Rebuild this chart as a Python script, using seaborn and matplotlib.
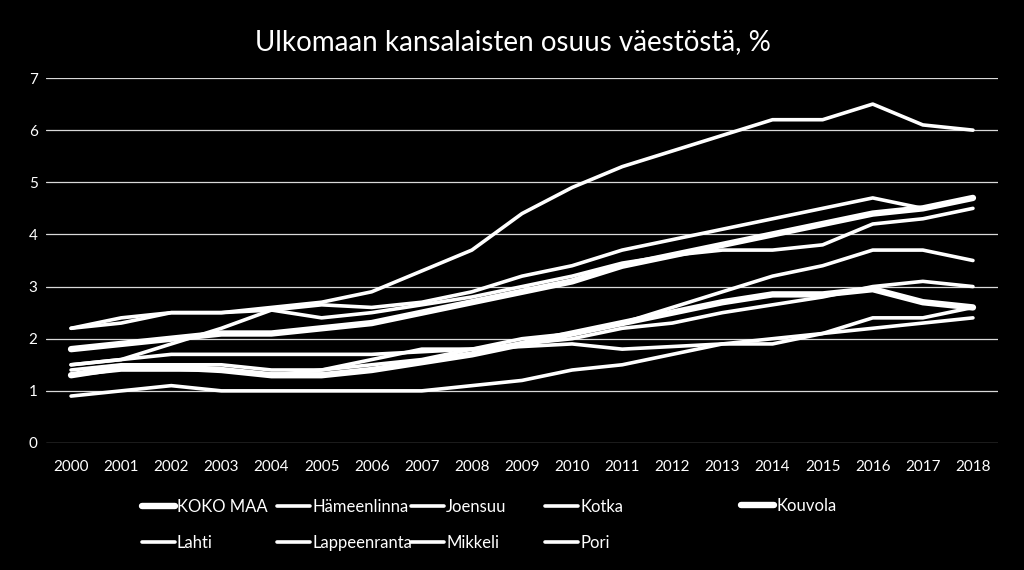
import matplotlib
matplotlib.use("Agg")
import matplotlib.pyplot as plt
import seaborn as sns
import pandas as pd
from matplotlib.lines import Line2D

years = list(range(2000, 2019))
koko_maa     = [1.8, 1.9, 2.0, 2.1, 2.1, 2.2, 2.3, 2.5, 2.7, 2.9, 3.1, 3.4, 3.6, 3.8, 4.0, 4.2, 4.4, 4.5, 4.7]
hameenlinna  = [1.5, 1.6, 1.7, 1.7, 1.7, 1.7, 1.7, 1.75, 1.8, 1.85, 1.9, 1.8, 1.85, 1.9, 1.9, 2.1, 2.4, 2.4, 2.6]
joensuu      = [1.4, 1.5, 1.5, 1.5, 1.4, 1.4, 1.5, 1.6, 1.8, 2.0, 2.1, 2.3, 2.6, 2.9, 3.2, 3.4, 3.7, 3.7, 3.5]
kotka        = [2.2, 2.4, 2.5, 2.5, 2.6, 2.7, 2.9, 3.3, 3.7, 4.4, 4.9, 5.3, 5.6, 5.9, 6.2, 6.2, 6.5, 6.1, 6.0]
kouvola      = [1.3, 1.45, 1.45, 1.4, 1.3, 1.3, 1.4, 1.55, 1.7, 1.9, 2.1, 2.3, 2.5, 2.7, 2.85, 2.85, 2.95, 2.7, 2.6]
lahti        = [2.2, 2.3, 2.5, 2.5, 2.55, 2.65, 2.6, 2.7, 2.9, 3.2, 3.4, 3.7, 3.9, 4.1, 4.3, 4.5, 4.7, 4.5, 4.7]
lappeenranta = [1.5, 1.6, 1.9, 2.2, 2.55, 2.4, 2.5, 2.65, 2.8, 3.0, 3.2, 3.45, 3.6, 3.7, 3.7, 3.8, 4.2, 4.3, 4.5]
mikkeli      = [0.9, 1.0, 1.1, 1.0, 1.0, 1.0, 1.0, 1.0, 1.1, 1.2, 1.4, 1.5, 1.7, 1.9, 2.0, 2.1, 2.2, 2.3, 2.4]
pori         = [1.3, 1.4, 1.4, 1.4, 1.3, 1.4, 1.6, 1.8, 1.8, 1.9, 2.0, 2.2, 2.3, 2.5, 2.65, 2.8, 3.0, 3.1, 3.0]

series_names = ["KOKO MAA", "Hämeenlinna", "Joensuu", "Kotka", "Kouvola",
                "Lahti", "Lappeenranta", "Mikkeli", "Pori"]
series_vals = [koko_maa, hameenlinna, joensuu, kotka, kouvola,
               lahti, lappeenranta, mikkeli, pori]
thick = {"KOKO MAA", "Kouvola"}

title = "Ulkomaan kansalaisten osuus väestöstä, %"

sns.set_theme(style="dark")
plt.rcParams["font.family"] = ["Lato", "DejaVu Sans"]

fig = plt.figure(figsize=(10.24, 5.70), dpi=100, facecolor="black")
ax = fig.add_axes([46/1024, 127/570, (998-46)/1024, (443-78)/570])
ax.set_facecolor("black")

handles = {}
for name, vals in zip(series_names, series_vals):
    df = pd.DataFrame({"year": years, "value": vals})
    lw = 4.6 if name in thick else 2.6
    sns.lineplot(data=df, x="year", y="value", ax=ax, color="white", linewidth=lw,
                 solid_capstyle="round", solid_joinstyle="round", zorder=3, legend=False)
    handles[name] = Line2D([0], [0], color="white", lw=lw, solid_capstyle="round")

ax.set_xlim(1999.5, 2018.5)
ax.set_ylim(0, 7)
ax.set_xticks(years)
ax.set_xticklabels([str(y) for y in years])
ax.set_yticks(range(0, 8))
ax.grid(axis="y", color="#d9d9d9", linewidth=0.9, zorder=1)
ax.grid(axis="x", visible=False)
for s in ax.spines.values():
    s.set_visible(False)
ax.tick_params(axis="x", colors="white", labelsize=11, pad=12, length=0)
ax.tick_params(axis="y", colors="white", labelsize=11, pad=6, length=0)
ax.set_xlabel("")
ax.set_ylabel("")

fig.text(513/1024, 1 - 42/570, title, color="white", fontsize=20,
         ha="center", va="center")

# legend laid out in columns as in the reference
cols = [(142, ["KOKO MAA", "Lahti"]), (277, ["Hämeenlinna", "Lappeenranta"]),
        (411, ["Joensuu", "Mikkeli"]), (545, ["Kotka", "Pori"]), (741, ["Kouvola"])]
for xpx, names in cols:
    cy = 525 if len(names) == 2 else 506
    leg = fig.legend([handles[n] for n in names], names, loc="center left",
                     bbox_to_anchor=(xpx/1024, 1 - cy/570), frameon=False,
                     fontsize=12, handlelength=1.95, handletextpad=0.15,
                     labelspacing=1.2, borderpad=0, borderaxespad=0)
    for t in leg.get_texts():
        t.set_color("white")

fig.savefig("out.png", dpi=100, facecolor="black")
